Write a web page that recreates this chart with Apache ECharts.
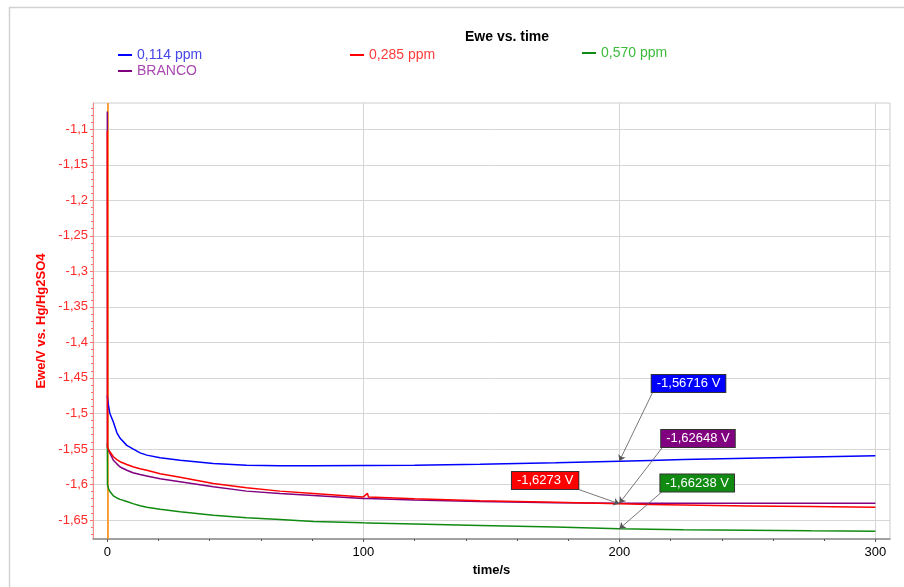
<!DOCTYPE html>
<html>
<head>
<meta charset="utf-8">
<script src="https://cdn.jsdelivr.net/npm/echarts@6/dist/echarts.min.js"></script>
<style>html,body{margin:0;padding:0;background:#fff;}#c{width:904px;height:587px;}</style>
</head>
<body>
<div id="c"></div>
<script>
// ---- data ----
const times = [0, 0.05, 0.5, 1, 2.35, 3.7, 5, 7.6, 10, 12.8, 15.4, 20.6, 28.4, 41.4, 54.4, 67.4, 80.5, 100, 101.6, 102, 120, 145.6, 175, 200, 212, 225, 250, 275, 300];
const blueVals = [-1.475, -1.478, -1.490, -1.500, -1.512, -1.527, -1.535, -1.545, -1.550, -1.5555, -1.5587, -1.5625, -1.5658, -1.5705, -1.5730, -1.5738, -1.5738, -1.5735, -1.5735, -1.5734, -1.5728, -1.5714, -1.5695, -1.5672, -1.5662, -1.5650, -1.5630, -1.5612, -1.5597];
const redVals = [-1.102, -1.547, -1.551, -1.554, -1.561, -1.565, -1.568, -1.572, -1.575, -1.578, -1.580, -1.585, -1.590, -1.5986, -1.6048, -1.6094, -1.6127, -1.6175, -1.6125, -1.6177, -1.6200, -1.6230, -1.6252, -1.6273, -1.6282, -1.6290, -1.6302, -1.6312, -1.6322];
const purpleVals = [-1.075, -1.548, -1.552, -1.556, -1.566, -1.571, -1.5755, -1.580, -1.5835, -1.586, -1.588, -1.592, -1.5963, -1.6034, -1.6094, -1.6127, -1.6155, -1.6197, -1.6198, -1.6198, -1.6218, -1.6240, -1.6256, -1.6265, -1.6266, -1.6265, -1.6265, -1.6265, -1.6265];
const greenVals = [-1.542, -1.600, -1.606, -1.610, -1.616, -1.619, -1.621, -1.624, -1.627, -1.630, -1.632, -1.635, -1.6386, -1.6432, -1.6470, -1.6493, -1.6521, -1.6540, -1.6541, -1.6541, -1.6556, -1.6578, -1.6600, -1.6622, -1.6630, -1.6638, -1.6645, -1.6652, -1.6658];
const seriesNames = ['0,114 ppm', '0,285 ppm', '0,570 ppm', 'BRANCO'];
const xTicks = [0, 100, 200, 300];
const yTicks = [-1.65, -1.6, -1.55, -1.5, -1.45, -1.4, -1.35, -1.3, -1.25, -1.2, -1.15, -1.1];
const cursorTime = 200;
const startCursorTime = 0;
const cursorValues = [-1.56716, -1.6273, -1.66238, -1.62648];
const cursorLabels = ['-1,56716 V', '-1,6273 V', '-1,66238 V', '-1,62648 V'];
// annotation box anchors (data coords) : [box centre, arrow start]
const boxCentres = [[227, -1.458], [171, -1.5946], [230.4, -1.5979], [230.7, -1.5352]];
const arrowStarts = [[212.9, -1.471], [184, -1.607], [216.6, -1.6104], [216.8, -1.5479]];

// ---- build ----
const colors = ['#0000ff', '#ff0000', '#108a10', '#800080'];
const textColors = ['#4545e8', '#ff3c3c', '#3cbc3c', '#a848b0'];
const FONT = "'Liberation Sans', Arial, sans-serif";
const valsList = [blueVals, redVals, greenVals, purpleVals];
function pairs(v) { return times.map((t, i) => [t, v[i]]); }
const fmt = v => String(v).replace('.', ',');

const minorX = [];
for (let i = 0; i < xTicks.length - 1; i++) for (let k = 1; k < 5; k++) minorX.push(xTicks[i] + k * (xTicks[i + 1] - xTicks[i]) / 5);
const minorY = [];
for (let i = 0; i < yTicks.length - 1; i++) for (let k = 1; k < 5; k++) minorY.push(+(yTicks[i] + k * (yTicks[i + 1] - yTicks[i]) / 5).toFixed(4));
minorY.push(-1.66, -1.67, -1.09, -1.08, -1.07);

function makeSeries(idx, z) {
  return {
    name: seriesNames[idx], type: 'line', data: pairs(valsList[idx]),
    showSymbol: false, symbol: 'none', z: z,
    lineStyle: { color: colors[idx], width: 1.5 }, itemStyle: { color: colors[idx] },
    markPoint: {
      silent: true, symbol: 'rect', symbolSize: 0,
      data: [{ coord: boxCentres[idx] }],
      label: {
        show: true, position: 'inside', formatter: cursorLabels[idx],
        color: '#fff', fontSize: 13, fontFamily: FONT,
        backgroundColor: colors[idx], borderColor: '#333', borderWidth: 1,
        padding: [2, 5, 1, 5], lineHeight: 14
      }
    },
    markLine: {
      silent: true, symbol: ['none', 'arrow'], symbolSize: 6,
      lineStyle: { color: '#555', width: 0.8, type: 'solid' }, label: { show: false },
      data: [[{ coord: arrowStarts[idx] }, { coord: [cursorTime, cursorValues[idx]] }]]
    }
  };
}

const cursorSeries = {
  type: 'line', data: [], z: 1, silent: true,
  markLine: {
    silent: true, z: 1, symbol: ['none', 'none'], label: { show: false },
    lineStyle: { color: '#ff8800', width: 1.5, type: 'solid' },
    data: [{ xAxis: startCursorTime }]
  }
};
const series = [cursorSeries, makeSeries(3, 2), makeSeries(2, 3), makeSeries(0, 3), makeSeries(1, 4)];

const legendBase = { orient: 'vertical', icon: 'rect', itemWidth: 14, itemHeight: 2, itemGap: 2, textStyle: { fontSize: 14, fontFamily: FONT }, selectedMode: false };
const option = {
  animation: false,
  backgroundColor: '#fff',
  graphic: [{ type: 'rect', shape: { x: 9.5, y: 7.5, width: 1000, height: 1000 }, style: { fill: 'none', stroke: '#d2d2d2', lineWidth: 1.5 }, silent: true }],
  title: { text: 'Ewe vs. time', left: 502, textAlign: 'center', top: 25, textStyle: { fontSize: 14, fontWeight: 'bold', color: '#000', fontFamily: FONT } },
  legend: [
    Object.assign({}, legendBase, { left: 113, top: 43, data: [{ name: seriesNames[0], textStyle: { color: textColors[0] } }, { name: seriesNames[3], textStyle: { color: textColors[3] } }] }),
    Object.assign({}, legendBase, { left: 345, top: 43, data: [{ name: seriesNames[1], textStyle: { color: textColors[1] } }] }),
    Object.assign({}, legendBase, { left: 577, top: 41, data: [{ name: seriesNames[2], textStyle: { color: textColors[2] } }] })
  ],
  grid: { left: 93, top: 103, right: 14, bottom: 48, show: true, borderColor: '#cccccc', borderWidth: 1, backgroundColor: '#fff' },
  xAxis: [{
    type: 'value', min: -5.6, max: 305.7,
    name: 'time/s', nameLocation: 'middle', nameGap: 23,
    nameTextStyle: { fontSize: 13, fontWeight: 'bold', color: '#000', fontFamily: FONT },
    axisLine: { show: true, onZero: false, lineStyle: { color: '#8a8a8a', width: 1.5 } },
    axisTick: { show: true, length: 3, customValues: xTicks, lineStyle: { color: '#555' } },
    axisLabel: { customValues: xTicks, fontSize: 13, color: '#000', margin: 7, fontFamily: FONT },
    splitLine: { show: true, lineStyle: { color: '#d6d6d6', width: 1 } }
  }, {
    type: 'value', min: -5.6, max: 305.7, position: 'bottom',
    axisLine: { show: false, onZero: false }, axisLabel: { show: false }, splitLine: { show: false },
    axisTick: { show: true, length: 2, customValues: minorX, lineStyle: { color: '#555' } }
  }],
  yAxis: [{
    type: 'value', min: -1.6768, max: -1.063,
    name: 'Ewe/V vs. Hg/Hg2SO4', nameLocation: 'middle', nameGap: 37, nameRotate: 90,
    nameTextStyle: { fontSize: 13, fontWeight: 'bold', color: '#ff0000', fontFamily: FONT },
    axisLine: { show: true, onZero: false, lineStyle: { color: '#ff8a8a', width: 1 } },
    axisTick: { show: true, length: 3, customValues: yTicks, lineStyle: { color: '#ff7070' } },
    axisLabel: { customValues: yTicks, formatter: fmt, fontSize: 13, color: '#ff2a2a', margin: 5, fontFamily: FONT },
    splitLine: { show: true, lineStyle: { color: '#d6d6d6', width: 1 } }
  }, {
    type: 'value', min: -1.6768, max: -1.063, position: 'left',
    axisLine: { show: false, onZero: false }, axisLabel: { show: false }, splitLine: { show: false },
    axisTick: { show: true, length: 2, customValues: minorY, lineStyle: { color: '#ff7070' } }
  }],
  series: series
};
const chart = echarts.init(document.getElementById('c'), null, { renderer: 'canvas' });
chart.setOption(option);
</script>
</body>
</html>
